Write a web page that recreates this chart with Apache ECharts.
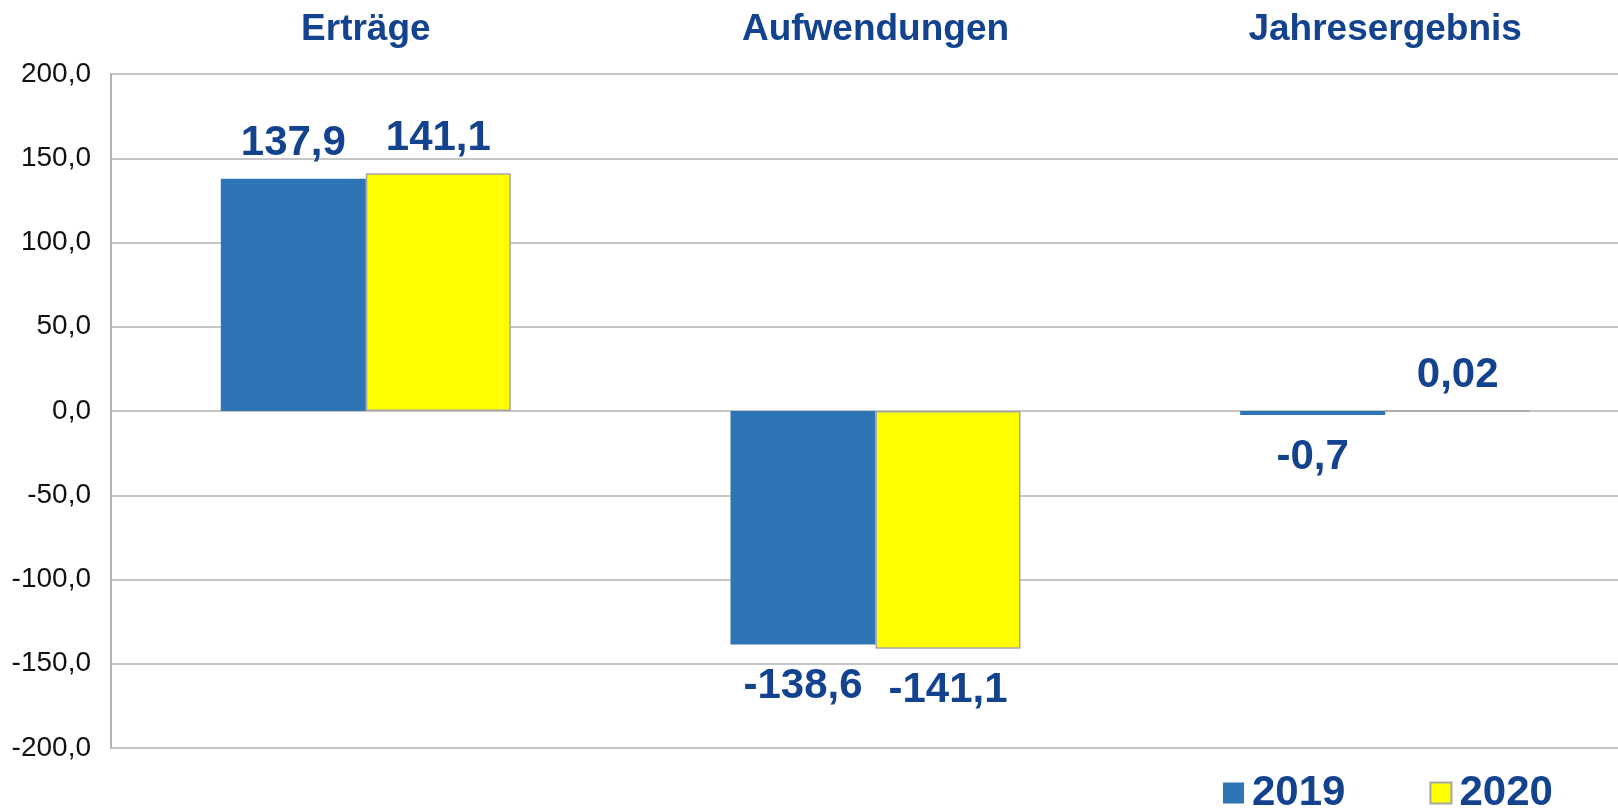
<!DOCTYPE html>
<html>
<head>
<meta charset="utf-8">
<style>
  html, body { margin: 0; padding: 0; background: #fff; }
  #chart { width: 1618px; height: 810px; }
</style>
<script src="https://cdn.jsdelivr.net/npm/echarts@6/dist/echarts.min.js"></script>
</head>
<body>
<div id="chart"></div>
<script>
var categories = ['Erträge', 'Aufwendungen', 'Jahresergebnis'];
var years = ['2019', '2020'];
var values2019 = [137.9, -138.6, -0.7];
var values2020 = [141.1, -141.1, 0.02];
var yTicks = [-200, -150, -100, -50, 0, 50, 100, 150, 200];

(function () {
    var chartDom = document.getElementById('chart');
    var myChart = echarts.init(chartDom);
    var blue = '#13428f';
    var font = '"Liberation Sans", Arial, sans-serif';

    function comma(v) {
        return String(v).replace('.', ',');
    }

    // positive values label above, negative below
    function toItems(arr) {
        return arr.map(function (v) {
            return {
                value: v,
                label: v < 0 ? { position: 'bottom', distance: 21 } : { position: 'top', distance: 14 }
            };
        });
    }

    var barLabel = {
        show: true,
        color: blue,
        fontFamily: font,
        fontWeight: 'bold',
        fontSize: 42,
        formatter: function (p) { return comma(p.value); }
    };

    var option = {
        animation: false,
        grid: {
            left: 111,
            right: -22,
            top: 74,
            bottom: 62,
            outerBoundsMode: 'none'
        },
        legend: {
            left: 1218,
            top: 767,
            itemWidth: 21,
            itemHeight: 21,
            itemGap: 84,
            icon: 'rect',
            data: years,
            textStyle: {
                color: blue,
                fontFamily: font,
                fontWeight: 'bold',
                fontSize: 42,
                padding: [0, 0, 0, 3]
            }
        },
        xAxis: {
            type: 'category',
            position: 'top',
            data: categories,
            axisLine: { show: false },
            axisTick: { show: false },
            splitLine: { show: false },
            axisLabel: {
                margin: 26,
                color: blue,
                fontFamily: font,
                fontWeight: 'bold',
                fontSize: 37
            }
        },
        yAxis: {
            type: 'value',
            min: yTicks[0],
            max: yTicks[yTicks.length - 1],
            interval: 50,
            axisLine: { show: true, lineStyle: { color: '#b3b3b3', width: 2 } },
            axisTick: { show: false },
            splitLine: { lineStyle: { color: '#b3b3b3', width: 1.5 } },
            axisLabel: {
                margin: 20,
                color: '#111',
                fontFamily: font,
                fontSize: 28,
                formatter: function (v) { return v.toFixed(1).replace('.', ','); }
            }
        },
        series: [
            {
                name: years[0],
                type: 'bar',
                barWidth: 145,
                barGap: '0%',
                barMinHeight: 4,
                itemStyle: { color: '#2e75b6' },
                label: barLabel,
                data: toItems(values2019)
            },
            {
                name: years[1],
                type: 'bar',
                barWidth: 145,
                barGap: '0%',
                itemStyle: { color: '#ffff00', borderColor: '#a6a6a6', borderWidth: 1.5 },
                label: barLabel,
                data: toItems(values2020)
            }
        ]
    };

    myChart.setOption(option);
    window.addEventListener('resize', function () {
        myChart.resize();
    });
})();
</script>
</body>
</html>
